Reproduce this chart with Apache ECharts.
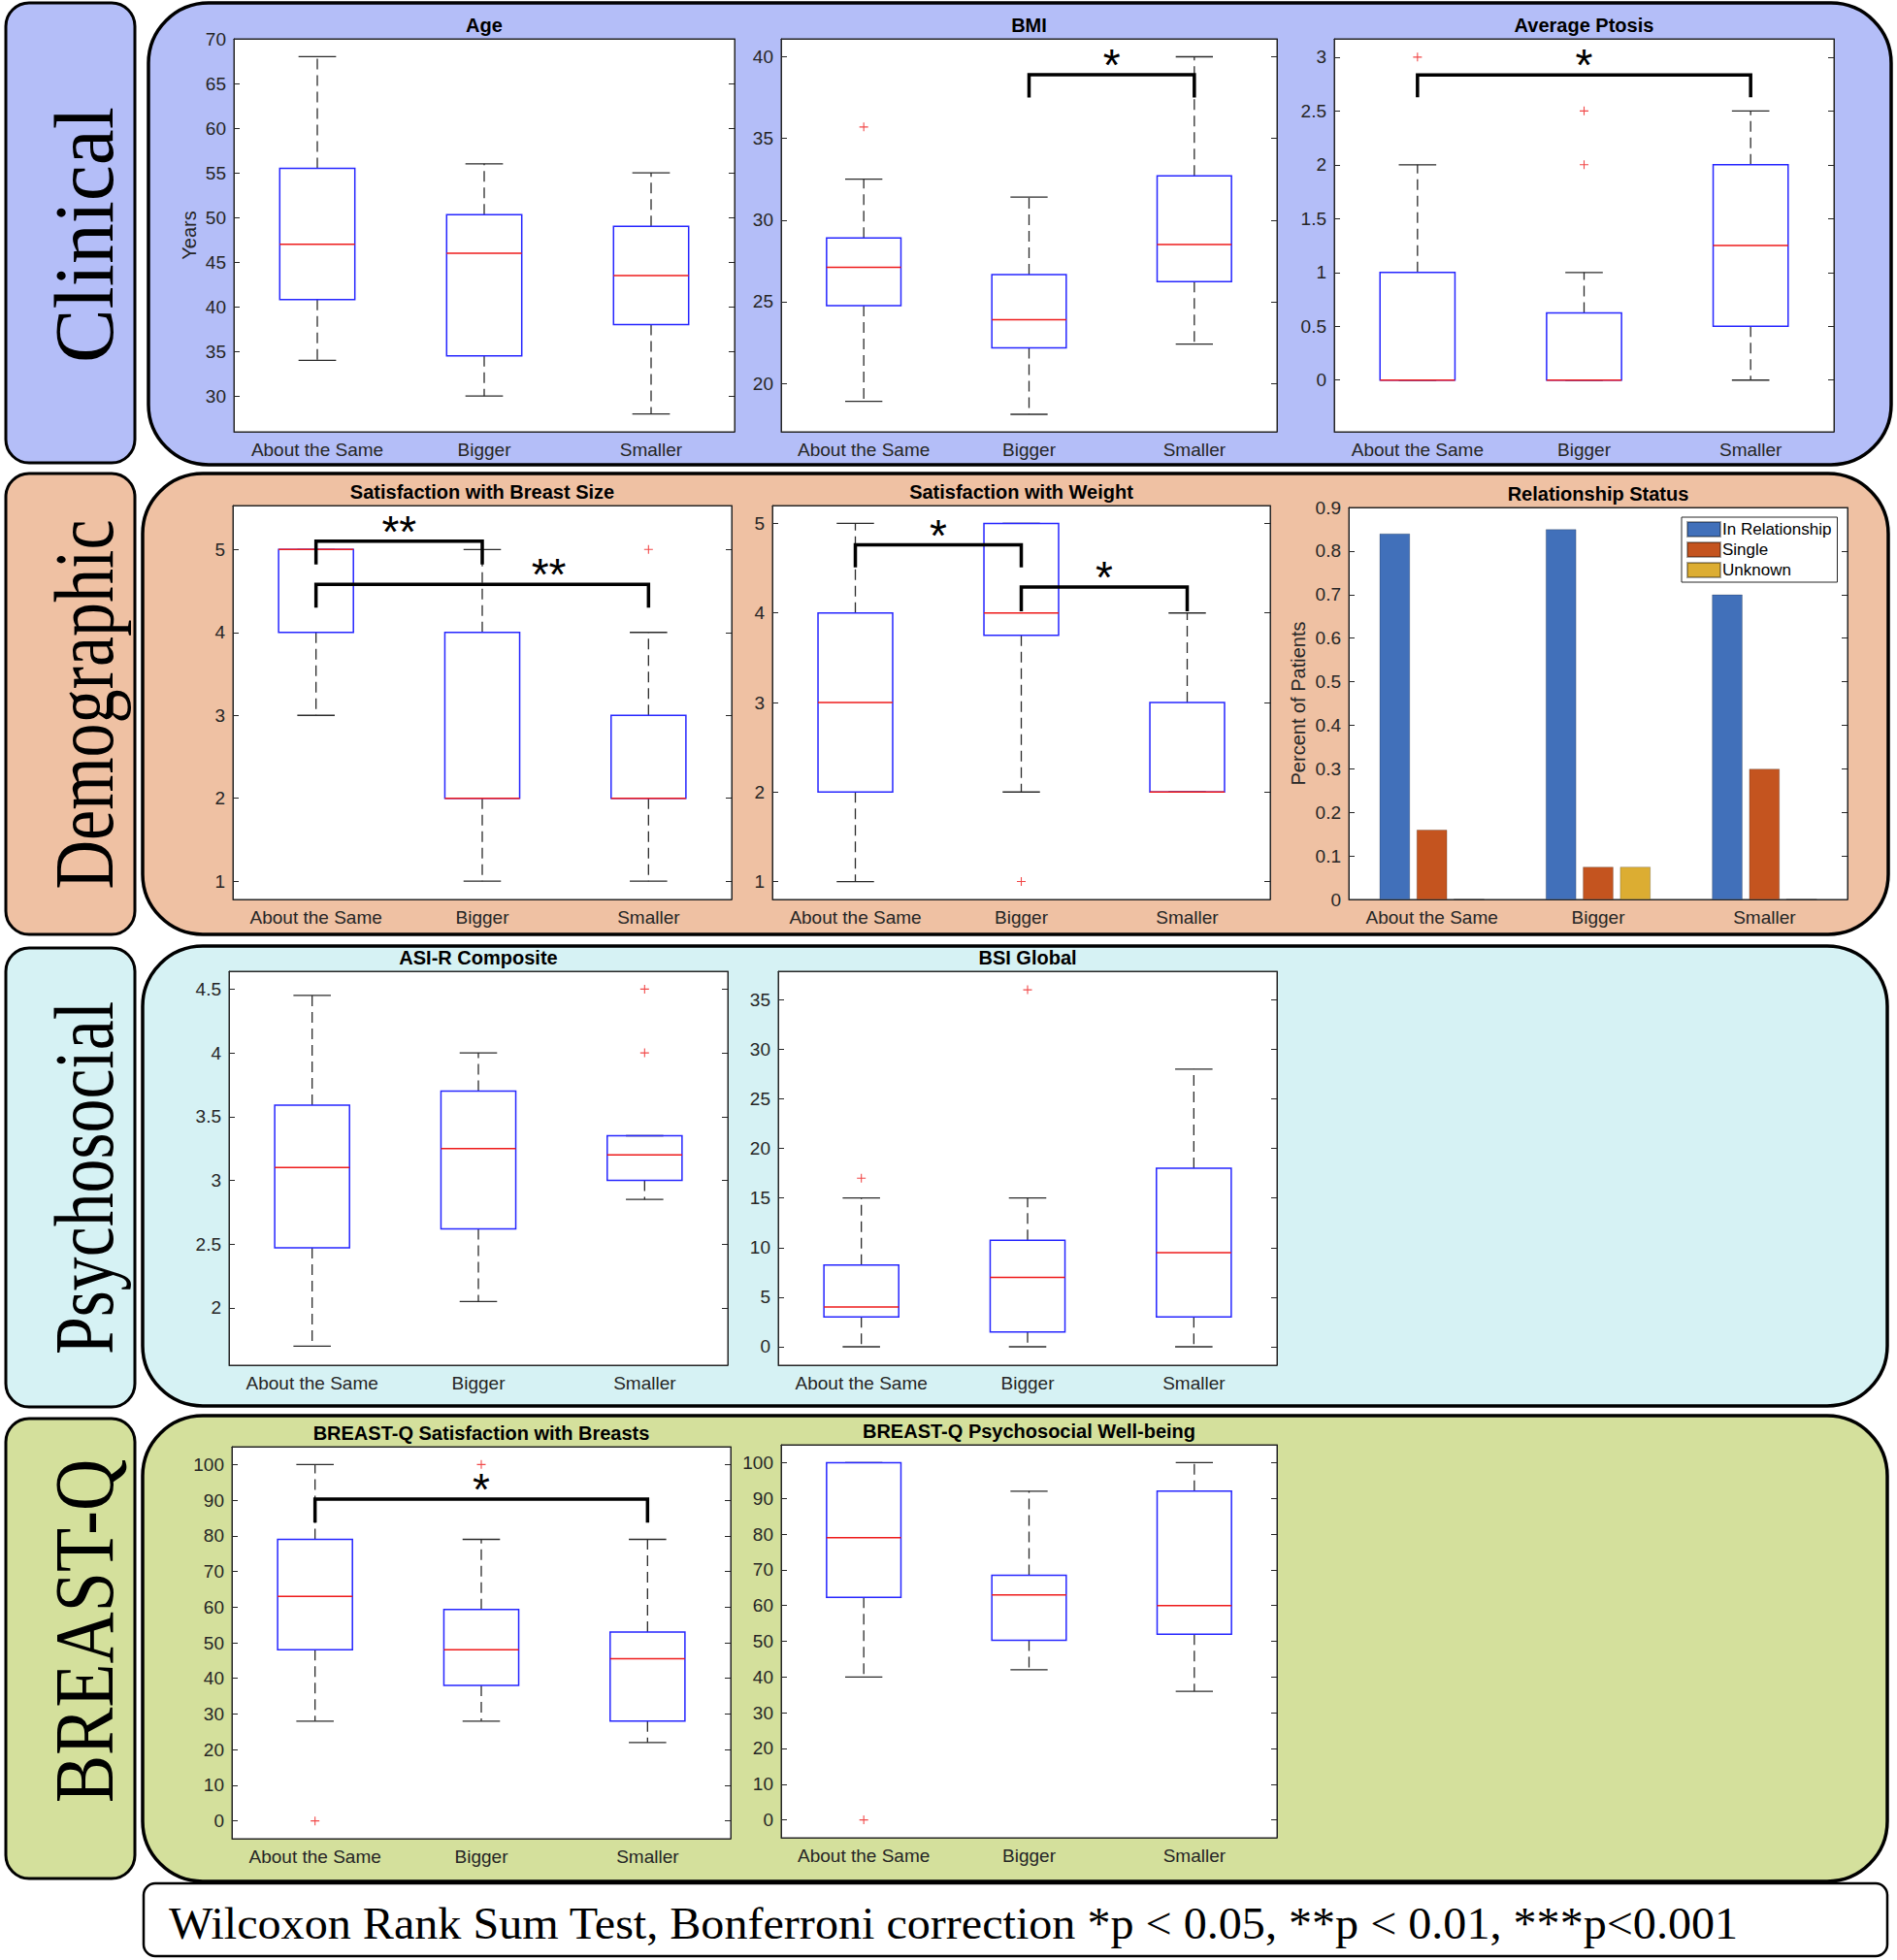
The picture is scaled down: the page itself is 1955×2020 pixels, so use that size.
<!DOCTYPE html>
<html><head><meta charset="utf-8">
<script src="https://cdn.jsdelivr.net/npm/echarts@6/dist/echarts.min.js"></script>
<style>html,body{margin:0;padding:0;background:#fff}#c{width:1955px;height:2020px}</style>
</head><body><div id="c"></div>
<script>
// ---------------- DATA ----------------
const categories = ['About the Same', 'Bigger', 'Smaller'];
// box stats per category: [lower whisker, Q1, median, Q3, upper whisker]
const ageBoxes = [[34, 40.8, 47, 55.5, 68], [30, 34.5, 46, 50.3, 56], [28, 38, 43.5, 49, 55]];
const ageOutliers = [];
const ageTicks = [30, 35, 40, 45, 50, 55, 60, 65, 70];

const bmiBoxes = [[18.9, 24.76, 27.1, 28.9, 32.5], [18.1, 22.17, 23.9, 26.66, 31.4], [22.4, 26.22, 28.5, 32.7, 40]];
const bmiOutliers = [[0, 35.7]];
const bmiTicks = [20, 25, 30, 35, 40];
const bmiBrackets = [{ from: 1, to: 2, y: 38.9, leg: 37.5, stars: '*' }];

const ptosisBoxes = [[0, 0, 0, 1, 2], [0, 0, 0, 0.625, 1], [0, 0.5, 1.25, 2, 2.5]];
const ptosisOutliers = [[0, 3], [1, 2.5], [1, 2]];
const ptosisTicks = [0, 0.5, 1, 1.5, 2, 2.5, 3];
const ptosisBrackets = [{ from: 0, to: 2, y: 2.835, leg: 2.626, stars: '*' }];

const breastSizeBoxes = [[3, 4, 5, 5, 5], [1, 2, 2, 4, 5], [1, 2, 2, 3, 4]];
const breastSizeOutliers = [[2, 5]];
const likertTicks = [1, 2, 3, 4, 5];
const breastSizeBrackets = [
  { from: 0, to: 1, y: 5.1, leg: 4.82, stars: '**' },
  { from: 0, to: 2, y: 4.58, leg: 4.30, stars: '**', at: 0.70 }
];

const weightBoxes = [[1, 2, 3, 4, 5], [2, 3.75, 4, 5, 5], [2, 2, 2, 3, 4]];
const weightOutliers = [[1, 1]];
const weightBrackets = [
  { from: 0, to: 1, y: 4.76, leg: 4.51, stars: '*' },
  { from: 1, to: 2, y: 4.29, leg: 4.02, stars: '*' }
];

const relInRelationship = [0.84, 0.85, 0.70];
const relSingle = [0.16, 0.075, 0.30];
const relUnknown = [0, 0.075, 0];
const relTicks = [0, 0.1, 0.2, 0.3, 0.4, 0.5, 0.6, 0.7, 0.8, 0.9];

const asiBoxes = [[1.70, 2.47, 3.10, 3.59, 4.45], [2.05, 2.62, 3.25, 3.70, 4.0], [2.85, 3.0, 3.2, 3.35, 3.35]];
const asiOutliers = [[2, 4.5], [2, 4.0]];
const asiTicks = [2, 2.5, 3, 3.5, 4, 4.5];

const bsiBoxes = [[0, 3, 4, 8.25, 15], [0, 1.5, 7, 10.75, 15], [0, 3, 9.5, 18, 28]];
const bsiOutliers = [[0, 17], [1, 36]];
const bsiTicks = [0, 5, 10, 15, 20, 25, 30, 35];

const bqSatBoxes = [[28, 48, 63, 79, 100], [28, 38, 48, 59.3, 79], [22, 28, 45.5, 53, 79]];
const bqSatOutliers = [[0, 0], [1, 100]];
const bqSatBrackets = [{ from: 0, to: 2, y: 90.3, leg: 83.7, stars: '*' }];

const bqPsyBoxes = [[40, 62.3, 79, 100, 100], [42, 50.3, 63, 68.5, 92], [36, 52, 60, 92, 100]];
const bqPsyOutliers = [[0, 0]];
const bqTicks = [0, 10, 20, 30, 40, 50, 60, 70, 80, 90, 100];

const sectionNames = ['Clinical', 'Demographic', 'Psychosocial', 'BREAST-Q'];
const footerText = 'Wilcoxon Rank Sum Test, Bonferroni correction *p < 0.05, **p < 0.01, ***p<0.001';

// ---------------- LAYOUT ----------------
const FONT = '"Liberation Sans", Arial, Helvetica, sans-serif';
const AX = '#262626';
const panels = [
  { rect: [241, 40, 516, 405], title: 'Age', titleY: 26, boxes: ageBoxes, outliers: ageOutliers, ylim: [26, 70], ticks: ageTicks, yName: 'Years', brackets: [] },
  { rect: [805, 40, 511, 405], title: 'BMI', titleY: 26, boxes: bmiBoxes, outliers: bmiOutliers, ylim: [17.03, 41.1], ticks: bmiTicks, brackets: bmiBrackets },
  { rect: [1375, 40, 515, 405], title: 'Average Ptosis', titleY: 26, boxes: ptosisBoxes, outliers: ptosisOutliers, ylim: [-0.48, 3.17], ticks: ptosisTicks, brackets: ptosisBrackets },
  { rect: [240, 521, 514, 406], title: 'Satisfaction with Breast Size', titleY: 507, boxes: breastSizeBoxes, outliers: breastSizeOutliers, ylim: [0.78, 5.53], ticks: likertTicks, brackets: breastSizeBrackets },
  { rect: [796, 521, 513, 406], title: 'Satisfaction with Weight', titleY: 507, boxes: weightBoxes, outliers: weightOutliers, ylim: [0.8, 5.2], ticks: likertTicks, brackets: weightBrackets },
  { rect: [1390, 523, 514, 404], title: 'Relationship Status', titleY: 509, bar: true, ylim: [0, 0.9], ticks: relTicks, yName: 'Percent of Patients' },
  { rect: [236, 1001, 514, 406], title: 'ASI-R Composite', titleY: 987, boxes: asiBoxes, outliers: asiOutliers, ylim: [1.55, 4.64], ticks: asiTicks, brackets: [] },
  { rect: [802, 1001, 514, 406], title: 'BSI Global', titleY: 987, boxes: bsiBoxes, outliers: bsiOutliers, ylim: [-1.86, 37.87], ticks: bsiTicks, brackets: [] },
  { rect: [239, 1491, 514, 404], title: 'BREAST-Q Satisfaction with Breasts', titleY: 1477, boxes: bqSatBoxes, outliers: bqSatOutliers, ylim: [-5, 105], ticks: bqTicks, brackets: bqSatBrackets },
  { rect: [805, 1489, 511, 405], title: 'BREAST-Q Psychosocial Well-being', titleY: 1475, boxes: bqPsyBoxes, outliers: bqPsyOutliers, ylim: [-5, 105], ticks: bqTicks, brackets: [] }
];
const sections = [
  { box: [6, 3, 133, 474], panel: [153, 3, 1796, 476], color: '#b4bef8', labelY: 242, labelLen: 264 },
  { box: [6, 488, 133, 475], panel: [147, 488, 1799, 475], color: '#efc1a3', labelY: 726, labelLen: 381 },
  { box: [6, 977, 133, 473], panel: [147, 975, 1798, 474], color: '#d6f2f4', labelY: 1214, labelLen: 364 },
  { box: [6, 1462, 133, 474], panel: [147, 1459, 1798, 480], color: '#d4e09c', labelY: 1681, labelLen: 355 }
];

const measureCtx = document.createElement('canvas').getContext('2d');
function textWidth(text, font) { measureCtx.font = font; return measureCtx.measureText(text).width; }

const grid = [], xAxis = [], yAxis = [], series = [], graphic = [];

function boxRender(params, api) {
  const idx = api.value(0);
  const lo = api.value(1), q1 = api.value(2), md = api.value(3), q3 = api.value(4), hi = api.value(5);
  const band = api.size([1, 0])[0];
  const bw = band * 0.45, cw = bw / 2;
  const x = api.coord([idx, md])[0];
  const Y = v => api.coord([idx, v])[1];
  const dash = { stroke: '#2a2a2a', lineWidth: 1.3, lineDash: [11, 6], fill: 'none' };
  const solid = { stroke: '#2a2a2a', lineWidth: 1.3, fill: 'none' };
  const ch = [];
  if (hi > q3) ch.push({ type: 'line', shape: { x1: x, y1: Y(q3), x2: x, y2: Y(hi) }, style: dash });
  if (lo < q1) ch.push({ type: 'line', shape: { x1: x, y1: Y(q1), x2: x, y2: Y(lo) }, style: dash });
  ch.push({ type: 'line', shape: { x1: x - cw / 2, y1: Y(hi), x2: x + cw / 2, y2: Y(hi) }, style: solid });
  ch.push({ type: 'line', shape: { x1: x - cw / 2, y1: Y(lo), x2: x + cw / 2, y2: Y(lo) }, style: solid });
  ch.push({ type: 'rect', shape: { x: x - bw / 2, y: Y(q3), width: bw, height: Y(q1) - Y(q3) }, style: { fill: 'none', stroke: '#2626ff', lineWidth: 1.5 } });
  ch.push({ type: 'line', shape: { x1: x - bw / 2, y1: Y(md), x2: x + bw / 2, y2: Y(md) }, style: { stroke: '#ee1b1b', lineWidth: 1.5 } });
  return { type: 'group', children: ch };
}

function bracketRenderFactory(list) {
  return function (params, api) {
    const b = list[params.dataIndex];
    const x1 = api.coord([api.value(0), api.value(2)])[0];
    const x2 = api.coord([api.value(1), api.value(2)])[0];
    const yb = api.coord([api.value(0), api.value(2)])[1];
    const yl = api.coord([api.value(0), api.value(3)])[1];
    const at = b.at == null ? 0.5 : b.at;
    return {
      type: 'group', children: [
        { type: 'polyline', shape: { points: [[x1, yl], [x1, yb], [x2, yb], [x2, yl]] }, style: { stroke: '#000', lineWidth: 3.5, fill: 'none' } },
        { type: 'text', x: x1 + (x2 - x1) * at, y: yb - 10, style: { text: b.stars, font: '46px ' + FONT, fill: '#000', textAlign: 'center', textVerticalAlign: 'middle', verticalAlign: 'middle' } }
      ]
    };
  };
}

const plusSymbol = 'path://M0,4.4H10V5.6H0Z M4.4,0H5.6V10H4.4Z';

panels.forEach((p, gi) => {
  const [l, t, w, h] = p.rect;
  grid.push({ left: l, top: t, width: w, height: h, show: true, backgroundColor: '#fff', borderColor: AX, borderWidth: 1, containLabel: false });
  const xb = xAxis.length;
  xAxis.push({
    type: 'category', gridIndex: gi, data: categories, boundaryGap: true, position: 'bottom',
    axisLine: { onZero: false, lineStyle: { color: AX, width: 1 } },
    axisTick: { inside: true, alignWithLabel: true, length: 6, lineStyle: { color: AX } },
    axisLabel: { margin: 9, fontSize: 19, color: AX, fontFamily: FONT, interval: 0 },
    splitLine: { show: false }
  });
  xAxis.push({
    type: 'category', gridIndex: gi, data: categories, boundaryGap: true, position: 'top',
    axisLine: { onZero: false, lineStyle: { color: AX, width: 1 } },
    axisTick: { inside: true, alignWithLabel: true, length: 6, lineStyle: { color: AX } },
    axisLabel: { show: false }, splitLine: { show: false }
  });
  const yl = yAxis.length;
  yAxis.push({
    type: 'value', gridIndex: gi, min: p.ylim[0], max: p.ylim[1], position: 'left',
    name: p.yName || '', nameLocation: 'middle', nameGap: p.bar ? 42 : 36,
    nameTextStyle: { fontSize: 20, color: AX, fontFamily: FONT },
    axisLine: { show: true, onZero: false, lineStyle: { color: AX, width: 1 } },
    axisTick: { show: true, inside: true, length: 6, customValues: p.ticks, lineStyle: { color: AX } },
    axisLabel: { margin: 8, fontSize: 19, color: AX, fontFamily: FONT, customValues: p.ticks, showMinLabel: true, showMaxLabel: true },
    splitLine: { show: false }
  });
  yAxis.push({
    type: 'value', gridIndex: gi, min: p.ylim[0], max: p.ylim[1], position: 'right',
    axisLine: { show: true, onZero: false, lineStyle: { color: AX, width: 1 } },
    axisTick: { show: true, inside: true, length: 6, customValues: p.ticks, lineStyle: { color: AX } },
    axisLabel: { show: false }, splitLine: { show: false }
  });
  graphic.push({
    type: 'text', z: 50, x: l + w / 2, y: p.titleY,
    style: { text: p.title, font: 'bold 20px ' + FONT, fill: '#000', textAlign: 'center', textVerticalAlign: 'middle', verticalAlign: 'middle' }
  });
  if (p.bar) {
    const barStyle = (c) => ({ color: c, borderColor: 'rgba(0,0,0,0.35)', borderWidth: 0.6 });
    series.push({ type: 'bar', name: 'In Relationship', xAxisIndex: xb, yAxisIndex: yl, data: relInRelationship, barCategoryGap: '37%', barGap: '22%', itemStyle: barStyle('#4170ba') });
    series.push({ type: 'bar', name: 'Single', xAxisIndex: xb, yAxisIndex: yl, data: relSingle, barCategoryGap: '37%', barGap: '22%', itemStyle: barStyle('#c4541f') });
    series.push({ type: 'bar', name: 'Unknown', xAxisIndex: xb, yAxisIndex: yl, data: relUnknown, barCategoryGap: '37%', barGap: '22%', itemStyle: barStyle('#dcad32') });
    return;
  }
  series.push({
    type: 'custom', xAxisIndex: xb, yAxisIndex: yl, renderItem: boxRender,
    encode: { x: 0, y: [1, 2, 3, 4, 5] }, z: 3,
    data: p.boxes.map((b, i) => [i].concat(b))
  });
  if (p.outliers.length) {
    series.push({
      type: 'scatter', xAxisIndex: xb, yAxisIndex: yl, symbol: plusSymbol, symbolSize: 9, z: 4,
      itemStyle: { color: '#ee1b1b' }, data: p.outliers
    });
  }
  if (p.brackets.length) {
    series.push({
      type: 'custom', xAxisIndex: xb, yAxisIndex: yl, renderItem: bracketRenderFactory(p.brackets),
      encode: { x: [0, 1], y: [2, 3] }, z: 5,
      data: p.brackets.map(b => [b.from, b.to, b.y, b.leg])
    });
  }
});

// Section backgrounds and labels
const labelFont = '86px "Liberation Serif", "Times New Roman", serif';
sections.forEach((s, i) => {
  graphic.push({ type: 'rect', z: -20, shape: { x: s.panel[0], y: s.panel[1], width: s.panel[2], height: s.panel[3], r: 62 }, style: { fill: s.color, stroke: '#000', lineWidth: 3.5 } });
  graphic.push({ type: 'rect', z: -20, shape: { x: s.box[0], y: s.box[1], width: s.box[2], height: s.box[3], r: 24 }, style: { fill: s.color, stroke: '#000', lineWidth: 3 } });
  const sc = s.labelLen / textWidth(sectionNames[i], labelFont);
  graphic.push({
    type: 'text', z: 50, x: 87, y: s.labelY, rotation: Math.PI / 2, scaleX: sc, scaleY: 1,
    style: { text: sectionNames[i], font: labelFont, fill: '#000', textAlign: 'center', textVerticalAlign: 'middle', verticalAlign: 'middle' }
  });
});
// Footer
const footFont = '47px "Liberation Serif", "Times New Roman", serif';
graphic.push({ type: 'rect', z: -20, shape: { x: 148, y: 1941, width: 1797, height: 75, r: 12 }, style: { fill: '#fff', stroke: '#000', lineWidth: 2.5 } });
graphic.push({
  type: 'text', z: 50, x: 174, y: 1982, scaleX: 1618 / textWidth(footerText, footFont), scaleY: 1,
  style: { text: footerText, font: footFont, fill: '#000', textAlign: 'left', textVerticalAlign: 'middle', verticalAlign: 'middle' }
});

const chart = echarts.init(document.getElementById('c'), null, { renderer: 'svg', width: 1955, height: 2020 });
chart.setOption({
  animation: false,
  backgroundColor: '#fff',
  grid, xAxis, yAxis, series,
  legend: {
    left: 1733, top: 533, orient: 'vertical', icon: 'rect', itemWidth: 34, itemHeight: 15, itemGap: 4,
    padding: [4, 6, 4, 5], borderColor: AX, borderWidth: 1, backgroundColor: '#fff',
    textStyle: { fontSize: 17, color: '#000', fontFamily: FONT, padding: [0, 0, 0, -3] },
    data: ['In Relationship', 'Single', 'Unknown']
  },
  graphic: { elements: graphic }
});
</script>
</body></html>
